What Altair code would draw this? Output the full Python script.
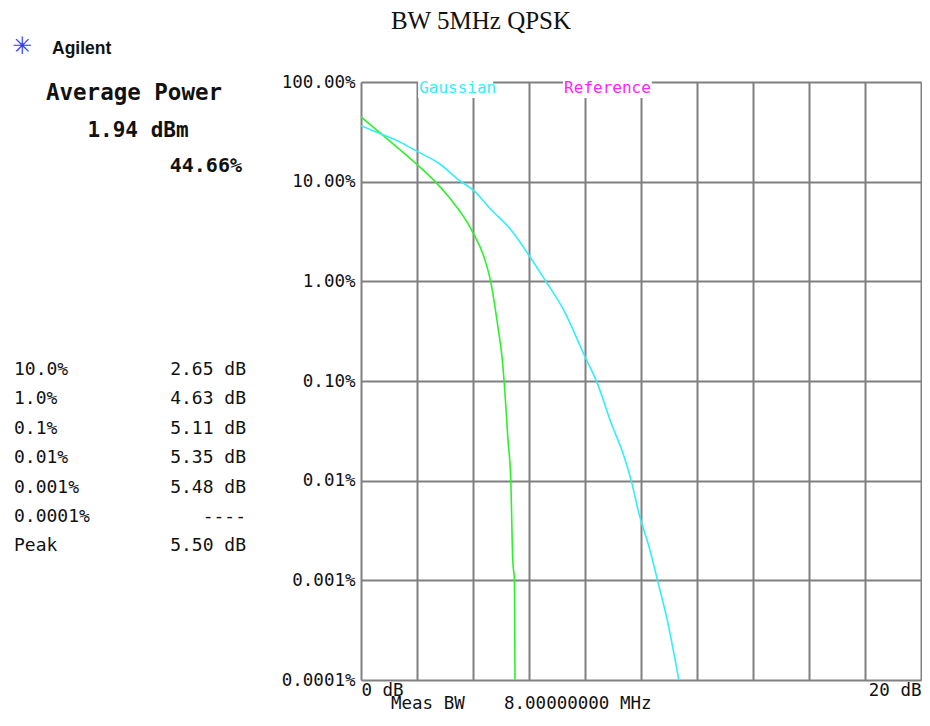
import altair as alt
import pandas as pd

# ---------------- data ----------------
title_text = "BW 5MHz QPSK"
brand_mark = "✳"
brand = "Agilent"
avg_label = "Average Power"
avg_dbm = "1.94 dBm"
avg_pct = "44.66%"

stat_labels = ["10.0%", "1.0%", "0.1%", "0.01%", "0.001%", "0.0001%", "Peak"]
stat_values = ["2.65 dB", "4.63 dB", "5.11 dB", "5.35 dB", "5.48 dB", "----", "5.50 dB"]

# measured CCDF (green)
measured_db = [0.0, 0.85, 2.02, 2.65, 3.13, 3.95, 4.43, 4.63, 4.89, 5.04, 5.11,
               5.25, 5.35, 5.42, 5.48, 5.50]
measured_pct = [44.66, 28.2, 14.7, 10.0, 7.05, 3.27, 1.63, 1.0, 0.35, 0.17, 0.1,
                0.0255, 0.01, 0.00158, 0.001, 0.0001]

# Gaussian reference trace (cyan)
gauss_db = [0.0, 0.67, 1.37, 2.02, 2.78, 3.55, 4.01, 4.66, 5.31, 5.95, 6.60, 7.24,
            8.00, 8.42, 8.94, 9.36, 9.65, 9.96, 10.29, 10.59, 10.94, 11.35]
gauss_pct = [36.4, 30.5, 25.2, 20.0, 15.3, 10.1, 8.24, 5.19, 3.40, 1.91, 1.0, 0.514,
             0.175, 0.098, 0.0374, 0.0187, 0.01, 0.00432, 0.00216, 0.001, 0.000396, 0.0001]

series_names = ["Measured", "Gaussian"]
legend_names = ["Gaussian", "Reference"]

y_ticks = [100, 10, 1, 0.1, 0.01, 0.001, 0.0001]
y_tick_labels = ["100.00%", "10.00%", "1.00%", "0.10%", "0.01%", "0.001%", "0.0001%"]
x_ticks = [0, 2, 4, 6, 8, 10, 12, 14, 16, 18, 20]
x_end_labels = ["0 dB", "20 dB"]
meas_bw_label = "Meas BW"
meas_bw_value = "8.00000000 MHz"

# ---------------- styles ----------------
GREEN = "#2ef02e"
CYAN = "#33eef8"
MAGENTA = "#ff22ff"
GRID = "#808080"
MONO = "DejaVu Sans Mono"
W, H = 560, 598
SX = W / 568.0  # horizontal factor for in-plot pixel positions

# y label expression built from the lists
expr = "'" + y_tick_labels[-1] + "'"
for v, lab in reversed(list(zip(y_ticks[:-1], y_tick_labels[:-1]))):
    expr = f"datum.value > {v * 0.5} ? '{lab}' : " + expr
x_expr = (f"datum.value == {x_ticks[0]} ? '{x_end_labels[0]}' : "
          f"datum.value == {x_ticks[-1]} ? '{x_end_labels[1]}' : ''")

curves = pd.DataFrame({
    "db": measured_db + gauss_db,
    "pct": measured_pct + gauss_pct,
    "series": [series_names[0]] * len(measured_db) + [series_names[1]] * len(gauss_db),
    "ord": list(range(len(measured_db))) + list(range(len(gauss_db))),
})

lines = alt.Chart(curves).mark_line(strokeWidth=1.6, clip=True, interpolate="monotone").encode(
    x=alt.X("db:Q",
            scale=alt.Scale(domain=[0, 20], nice=False, zero=False),
            axis=alt.Axis(values=x_ticks, title=None, grid=True, gridColor=GRID,
                          gridWidth=2, gridOpacity=1, ticks=False, domain=False,
                          labelExpr=x_expr, labelFlush=True, labelOverlap=False,
                          labelFont=MONO, labelFontSize=17.5, labelColor="#111",
                          labelPadding=1)),
    y=alt.Y("pct:Q",
            scale=alt.Scale(type="log", domain=[0.0001, 100], nice=False),
            axis=alt.Axis(values=y_ticks, title=None, grid=True, gridColor=GRID,
                          gridWidth=2, gridOpacity=1, ticks=False, domain=False,
                          labelExpr=expr, labelOverlap=False, labelFont=MONO,
                          labelFontSize=17.5, labelColor="#111", labelPadding=6)),
    color=alt.Color("series:N", scale=alt.Scale(domain=series_names, range=[GREEN, CYAN]),
                    legend=None),
    order="ord:Q",
)


def txt(s, x, y, align="left", baseline="middle", font=MONO, size=17, color="#111",
        weight="normal"):
    return alt.Chart(pd.DataFrame({"t": [s]})).mark_text(
        align=align, baseline=baseline, font=font, fontSize=size, color=color,
        fontWeight=weight,
    ).encode(x=alt.value(x), y=alt.value(y), text="t:N")


def box(x1, x2, y1, y2):
    return alt.Chart(pd.DataFrame({"t": [0]})).mark_rect(color="white").encode(
        x=alt.value(x1), x2=alt.value(x2), y=alt.value(y1), y2=alt.value(y2))


layers = [
    box(58 * SX, 134 * SX, -4, 16),
    box(205 * SX, 295 * SX, -4, 16),
    lines,
    txt(legend_names[0], 58 * SX + 1, 6, size=16, color=CYAN),
    txt(legend_names[1], 205 * SX + 1, 6, size=16, color=MAGENTA),
    txt(title_text, 120, -73, align="center", baseline="top",
        font="Liberation Serif", size=25, color="#111"),
    txt(brand_mark, -339, -35, align="center", font="DejaVu Sans", size=24, color="#3a3aff"),
    txt(brand, -309, -33, font="Liberation Sans", size=17.5, weight="bold"),
    txt(avg_label, -227, 11, align="center", size=22.5, weight="bold"),
    txt(avg_dbm, -223, 49, align="center", size=21, weight="bold"),
    txt(avg_pct, -119, 84, align="right", size=20, weight="bold"),
    txt(meas_bw_label, 30, 627, baseline="alphabetic", size=17.5),
    txt(meas_bw_value, 143, 627, baseline="alphabetic", size=17.5),
]
for i, (lab, val) in enumerate(zip(stat_labels, stat_values)):
    yy = 288 + 29.4 * i
    layers.append(txt(lab, -347, yy, size=18))
    layers.append(txt(val, -115, yy, align="right", size=18))

chart = alt.layer(*layers).properties(
    width=W, height=H,
    padding={"left": 353, "top": 74, "right": 1, "bottom": 34},
    autosize=alt.AutoSizeParams(type="none"),
).configure_view(stroke=GRID, strokeWidth=2, fill="white").configure(background="white")

chart.save("out.html", embed_options={"renderer": "svg", "actions": False})
